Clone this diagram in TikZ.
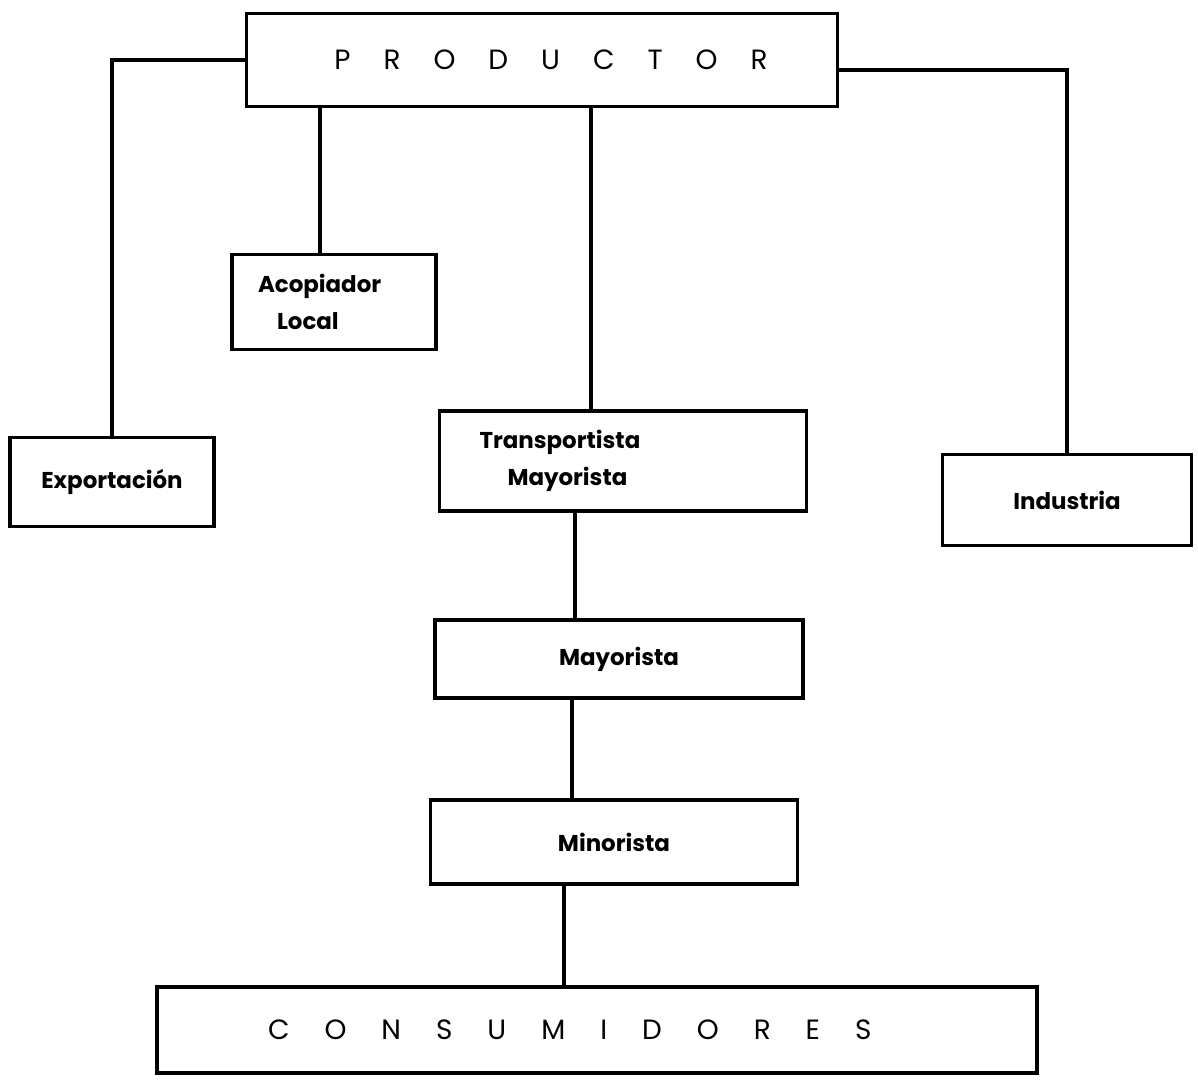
\documentclass[tikz,border=0pt]{standalone}
\usepackage{fontspec}
\setmainfont{Poppins}
\usepackage{tikz}
\usetikzlibrary{shapes}
\newcommand{\gap}{\hspace{33bp}}
\newcommand{\wgap}{\hspace{35bp}}

\begin{document}
\begin{tikzpicture}[box/.style={draw,rectangle,line width=3.8bp,inner sep=0bp,font=\fontsize{23}{37}\selectfont\bfseries},
wire/.style={line width=3.2bp}]
\useasboundingbox (0bp,0bp) rectangle (1198bp,-1083bp);
\node (prod) at (542bp,-60bp)[box,minimum width=591bp,minimum height=93bp,font=\fontsize{28}{32}\selectfont\mdseries] {\hspace*{18bp}P\gap R\gap O\gap D\gap U\gap C\gap T\gap O\gap R};
\node (acop) at (334bp,-302bp)[box,text width=204bp,minimum height=95bp,align=left] {\hspace*{26bp}Acopiador\\\hspace*{45bp}Local};
\node (expo) at (112bp,-482bp)[box,minimum width=204bp,minimum height=89bp] {Exportación};
\node (trans) at (623bp,-461bp)[box,text width=367bp,minimum height=100bp,align=left] {\hspace*{40bp}Transportista\\\hspace*{68bp}Mayorista};
\node (indu) at (1067bp,-500bp)[box,minimum width=249bp,minimum height=91bp] {Industria};
\node (mayo) at (619bp,-659bp)[box,minimum width=368bp,minimum height=78bp] {Mayorista};
\node (mino) at (614bp,-842bp)[box,minimum width=367bp,minimum height=84bp] {Minorista};
\node (cons) at (597bp,-1030bp)[box,text width=880bp,minimum height=86bp,align=left,font=\fontsize{28}{32}\selectfont\mdseries] {\hspace*{111bp}C\wgap O\wgap N\wgap S\wgap U\wgap M\wgap I\wgap D\wgap O\wgap R\wgap E\wgap S};
\draw [wire] (prod.west) -| (expo.north);
\draw [wire] ([xshift=-14bp]acop.north) -- ([xshift=-14bp]acop.north |- prod.south);
\draw [wire] ([xshift=-32bp]trans.north) -- ([xshift=-32bp]trans.north |- prod.south);
\draw [wire] ([yshift=-10bp]prod.east) -| (indu.north);
\draw [wire] ([xshift=-44bp]mayo.north) -- ([xshift=-44bp]mayo.north |- trans.south);
\draw [wire] ([xshift=-42bp]mino.north) -- ([xshift=-42bp]mino.north |- mayo.south);
\draw [wire] ([xshift=-33bp]cons.north) -- ([xshift=-33bp]cons.north |- mino.south);
\end{tikzpicture}
\end{document}
